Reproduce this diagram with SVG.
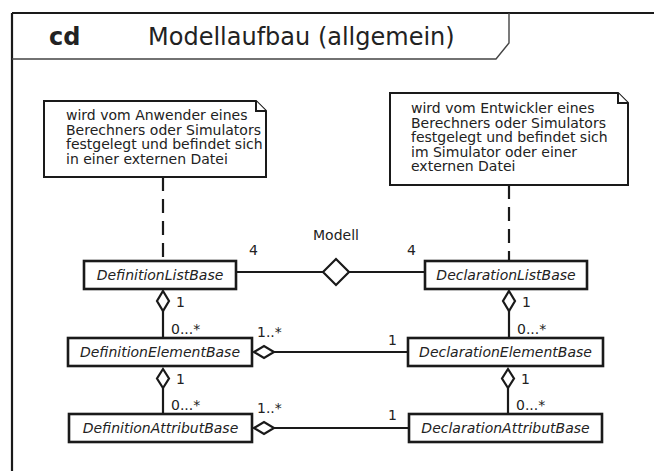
<svg xmlns="http://www.w3.org/2000/svg" width="654" height="471" viewBox="0 0 654 471">
  <style>
    text { font-family: "DejaVu Sans", "Liberation Sans", sans-serif; fill: #222; }
    .lbl { font-size: 14px; }
    .cls { font-size: 14px; font-style: italic; text-anchor: middle; }
    .note { font-size: 14px; }
    .box { fill: #fff; stroke: #1a1a1a; stroke-width: 2.6; }
    .notebox { fill: #fff; stroke: #1a1a1a; stroke-width: 2; }
    .line { stroke: #1a1a1a; stroke-width: 2.2; fill: none; }
    .dash { stroke: #1a1a1a; stroke-width: 2.2; fill: none; stroke-dasharray: 14 8; }
    .agg { fill: #fff; stroke: #1a1a1a; stroke-width: 2.2; stroke-linejoin: miter; }
  </style>

  <!-- diagram frame with title tab -->
  <g id="frame">
    <path d="M12,13 H660 M12,13 V480" fill="none" stroke="#1a1a1a" stroke-width="2.2"/>
    <path d="M509,13 V43 L496,59 H12" fill="none" stroke="#444" stroke-width="1.4"/>
    <text x="49" y="45" font-size="24" font-weight="bold">cd</text>
    <text x="148" y="45" font-size="24">Modellaufbau (allgemein)</text>
  </g>

  <!-- connectors -->
  <g id="connectors">
    <line class="dash" x1="163" y1="177" x2="163" y2="260"/>
    <line class="dash" x1="509" y1="185" x2="509" y2="260"/>
    <line class="line" x1="236" y1="272" x2="323" y2="272"/>
    <line class="line" x1="349" y1="272" x2="425" y2="272"/>
    <polygon class="agg" points="323,272 336,259 349,272 336,285"/>
    <text class="lbl" x="336" y="240" text-anchor="middle">Modell</text>
    <text class="lbl" x="249" y="255">4</text>
    <text class="lbl" x="407" y="255">4</text>

    <line class="line" x1="163" y1="311" x2="163" y2="337"/>
    <polygon class="agg" points="163,291 169,301 163,311 157,301"/>
    <text class="lbl" x="176" y="307">1</text>
    <text class="lbl" x="171" y="334">0...*</text>

    <line class="line" x1="509" y1="311" x2="509" y2="337"/>
    <polygon class="agg" points="509,291 515,301 509,311 503,301"/>
    <text class="lbl" x="522" y="307">1</text>
    <text class="lbl" x="517" y="334">0...*</text>

    <line class="line" x1="274" y1="352" x2="408" y2="352"/>
    <polygon class="agg" points="254,352 264,346 274,352 264,358"/>
    <text class="lbl" x="257" y="337">1..*</text>
    <text class="lbl" x="388" y="345">1</text>

    <line class="line" x1="163" y1="388" x2="163" y2="413"/>
    <polygon class="agg" points="163,369 169,378.5 163,388 157,378.5"/>
    <text class="lbl" x="176" y="384">1</text>
    <text class="lbl" x="171" y="410">0...*</text>

    <line class="line" x1="508" y1="388" x2="508" y2="413"/>
    <polygon class="agg" points="508,369 514,378.5 508,388 502,378.5"/>
    <text class="lbl" x="521" y="384">1</text>
    <text class="lbl" x="516" y="410">0...*</text>

    <line class="line" x1="274" y1="428" x2="409" y2="428"/>
    <polygon class="agg" points="254,428 264,422 274,428 264,434"/>
    <text class="lbl" x="257" y="413">1..*</text>
    <text class="lbl" x="388" y="420">1</text>
  </g>

  <!-- notes -->
  <g id="note-definition">
    <path class="notebox" d="M44,101 H256 L266,111 V177 H44 Z"/>
    <path class="notebox" d="M256,101 V111 H266" fill="none"/>
    <text class="note" x="66" y="120">wird vom Anwender eines</text>
    <text class="note" x="66" y="134.5">Berechners oder Simulators</text>
    <text class="note" x="66" y="149">festgelegt und befindet sich</text>
    <text class="note" x="66" y="163.5">in einer externen Datei</text>
  </g>
  <g id="note-declaration">
    <path class="notebox" d="M390,93 H618 L628,103 V185 H390 Z"/>
    <path class="notebox" d="M618,93 V103 H628" fill="none"/>
    <text class="note" x="411" y="113">wird vom Entwickler eines</text>
    <text class="note" x="411" y="127.5">Berechners oder Simulators</text>
    <text class="note" x="411" y="142">festgelegt und befindet sich</text>
    <text class="note" x="411" y="156.5">im Simulator oder einer</text>
    <text class="note" x="411" y="171">externen Datei</text>
  </g>

  <!-- classes -->
  <g id="DefinitionListBase">
    <rect class="box" x="84" y="261" width="152" height="28"/>
    <text class="cls" x="160" y="280">DefinitionListBase</text>
  </g>
  <g id="DeclarationListBase">
    <rect class="box" x="425" y="261" width="162" height="28"/>
    <text class="cls" x="506" y="280">DeclarationListBase</text>
  </g>
  <g id="DefinitionElementBase">
    <rect class="box" x="68" y="338" width="184" height="28"/>
    <text class="cls" x="160" y="357">DefinitionElementBase</text>
  </g>
  <g id="DeclarationElementBase">
    <rect class="box" x="408" y="338" width="195" height="28"/>
    <text class="cls" x="505.5" y="357">DeclarationElementBase</text>
  </g>
  <g id="DefinitionAttributBase">
    <rect class="box" x="69" y="414" width="183" height="28"/>
    <text class="cls" x="160.5" y="433">DefinitionAttributBase</text>
  </g>
  <g id="DeclarationAttributBase">
    <rect class="box" x="409" y="414" width="193" height="28"/>
    <text class="cls" x="505.5" y="433">DeclarationAttributBase</text>
  </g>
</svg>
